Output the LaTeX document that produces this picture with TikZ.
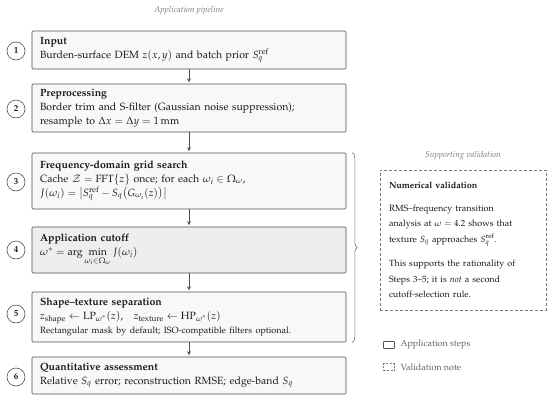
\documentclass[tikz,border=0pt]{standalone}
\usepackage{amsmath}
\usepackage[T1]{fontenc}
\usepackage{mathpazo}
\usetikzlibrary{arrows.meta,decorations.pathreplacing}
\definecolor{bordergray}{HTML}{505050}
\definecolor{boxfill}{HTML}{F8F8F8}
\definecolor{hlfill}{HTML}{EEEEEE}
\definecolor{notegray}{HTML}{7A7A7A}
\definecolor{txt}{HTML}{1A1A1A}
\tikzset{
  stepbox/.style={draw=bordergray, fill=boxfill, rounded corners=1pt, line width=0.6pt,
    minimum width=314pt, text width=298pt, inner xsep=8pt, inner ysep=0pt, align=left,
    text=txt, font=\fontsize{10.5}{14}\selectfont},
  numcirc/.style={circle, draw=bordergray, fill=white, line width=0.6pt, minimum size=18pt,
    inner sep=0pt, text=txt, font=\fontsize{9}{9}\selectfont\bfseries},
  arr/.style={draw=bordergray, line width=0.6pt, -{Stealth[length=4pt,width=4pt]}, shorten >=1.5pt},
  bracestyle/.style={draw=bordergray!80, line width=0.6pt, decorate, decoration={brace, amplitude=5pt}},
  valbox/.style={draw=notegray, dashed, dash pattern=on 3pt off 2pt, line width=0.6pt,
    minimum width=166pt, minimum height=140pt, text width=148pt, inner xsep=9pt, inner ysep=0pt,
    align=left, text=txt, font=\fontsize{9}{15.5}\selectfont},
  headtitle/.style={text=notegray, font=\fontsize{8.5}{10}\selectfont\itshape},
  legbox/.style={draw=bordergray, line width=0.6pt, rounded corners=0.5pt, minimum width=11pt, minimum height=7pt, inner sep=0pt},
  legdash/.style={draw=notegray, dashed, dash pattern=on 2pt off 1.5pt, line width=0.6pt, minimum width=11pt, minimum height=7pt, inner sep=0pt},
  legtext/.style={anchor=west, text=notegray!80!black, font=\fontsize{9}{10}\selectfont},
}
\begin{document}
\begin{tikzpicture}[x=1pt,y=-1pt]
\useasboundingbox (0,0) rectangle (550,400);

\node[headtitle] (t1) at (189,11) {Application pipeline};

\node[stepbox, minimum height=38pt] (s1) at (189,50)
  {\textbf{Input}\\ Burden-surface DEM $z(x,y)$ and batch prior $S_q^{\mathrm{ref}}$};
\node[stepbox, minimum height=48pt] (s2) at (189,108)
  {\textbf{Preprocessing}\\ Border trim and S-filter (Gaussian noise suppression);\\ resample to $\Delta x=\Delta y=1\,\mathrm{mm}$};
\node[stepbox, minimum height=56pt] (s3) at (189,181)
  {\textbf{Frequency-domain grid search}\\ Cache $\mathcal{Z}=\mathrm{FFT}\{z\}$ once; for each $\omega_i\in\Omega_\omega$,\\ $J(\omega_i)=\bigl|S_q^{\mathrm{ref}}-S_q\bigl(G_{\omega_i}(z)\bigr)\bigr|$};
\node[stepbox, fill=hlfill, minimum height=46pt] (s4) at (189,250)
  {\textbf{Application cutoff}\\ $\omega^*=\arg\min\limits_{\omega_i\in\Omega_\omega} J(\omega_i)$};
\node[stepbox, minimum height=50pt] (s5) at (189,317)
  {\textbf{Shape--texture separation}\\ $z_{\text{shape}}\leftarrow \mathrm{LP}_{\omega^*}(z)$,\quad $z_{\text{texture}}\leftarrow \mathrm{HP}_{\omega^*}(z)$\\ {\fontsize{9}{12}\selectfont Rectangular mask by default; ISO-compatible filters optional.}};
\node[stepbox, minimum height=37pt] (s6) at (189,375.5)
  {\textbf{Quantitative assessment}\\ Relative $S_q$ error; reconstruction RMSE; edge-band $S_q$};

\node[numcirc] (c1) at (16,51) {1};
\node[numcirc] (c2) at (16,109) {2};
\node[numcirc] (c3) at (16,182) {3};
\node[numcirc] (c4) at (16,250) {4};
\node[numcirc] (c5) at (16,314) {5};
\node[numcirc] (c6) at (16,377) {6};

\draw[arr] (s1.south) -- (s2.north);
\draw[arr] (s2.south) -- (s3.north);
\draw[arr] (s3.south) -- (s4.north);
\draw[arr] (s4.south) -- (s5.north);
\draw[arr] (s5.south) -- (s6.north);

\draw[bracestyle] ([xshift=6pt]s3.north east) -- ([xshift=6pt]s5.south east);

\node[headtitle] (t2) at (463,156) {Supporting validation};
\node[valbox] (val) at (463,240)
  {\textbf{Numerical validation}\par\vspace{7pt}
   RMS--frequency transition\\ analysis at $\omega=4.2$ shows that\\ texture $S_q$ approaches $S_q^{\mathrm{ref}}$.\par\vspace{9pt}
   This supports the rationality of\\ Steps 3--5; it is \emph{not} a second\\ cutoff-selection rule.\par};

\node[legbox] (l1) at (389,345) {};
\node[legtext] (lt1) at (397,345) {Application steps};
\node[legdash] (l2) at (389,367) {};
\node[legtext] (lt2) at (397,367) {Validation note};
\end{tikzpicture}
\end{document}
